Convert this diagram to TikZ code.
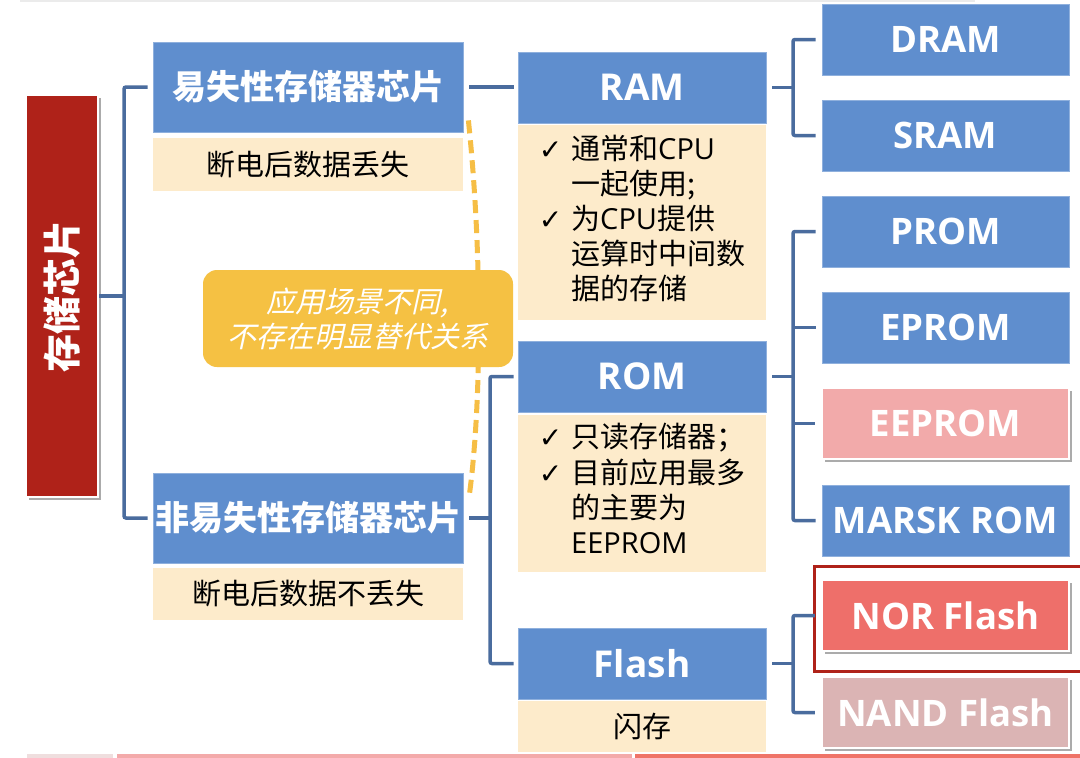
\documentclass[tikz,border=0pt]{standalone}
\usepackage{fontspec}
\setmainfont{Open Sans}
\newfontfamily\cjk{Noto Sans CJK SC}
\newfontfamily\cjkit{Noto Sans CJK SC}[FakeSlant=0.22]
\newfontfamily\lat{Open Sans}
\newfontfamily\dv{DejaVu Sans}
\usetikzlibrary{shadows}
\definecolor{boxblue}{HTML}{5F8ECE}
\definecolor{cream}{HTML}{FDEBCB}
\definecolor{linec}{HTML}{4A6C9E}
\definecolor{darkred}{HTML}{AF2219}
\definecolor{eepink}{HTML}{F2AAAA}
\definecolor{norred}{HTML}{EE6F6A}
\definecolor{nandpink}{HTML}{DBB4B4}
\definecolor{ygold}{HTML}{F5C143}
\definecolor{dashy}{HTML}{F6BE45}
\definecolor{stripa}{HTML}{EFDEDE}
\definecolor{stripb}{HTML}{F3AAAA}
\definecolor{stripc}{HTML}{EF7468}
\tikzset{
  bluebox/.style={rectangle, fill=boxblue, draw=boxblue!70!white, line width=0.8pt, text=white, inner sep=0pt},
  creambox/.style={rectangle, fill=cream, inner sep=0pt, text=black, font=\cjk\fontsize{29}{35}\selectfont},
  leafbox/.style={bluebox, minimum width=247pt, minimum height=71pt, font=\lat\bfseries\fontsize{36.5}{40}\selectfont},
  midbox/.style={bluebox, minimum width=248pt, minimum height=71pt, font=\lat\bfseries\fontsize{37}{40}\selectfont},
  titlebox/.style={bluebox, minimum width=310pt, minimum height=90pt, font=\cjk\bfseries\fontsize{34}{40}\selectfont},
  shadowed/.style={draw=white, line width=2.5pt, drop shadow={shadow xshift=3pt, shadow yshift=-3pt, fill=black, opacity=0.33}},
  conn/.style={draw=linec, line width=3.5pt, rounded corners=2pt},
}
\newcommand{\ck}{{\dv\fontsize{28}{35}\selectfont ✓}}
\begin{document}
\begin{tikzpicture}[x=1pt,y=-1pt]
\useasboundingbox (0,0) rectangle (1080,758);
\fill[white] (0,0) rectangle (1080,758);
% faint strips at the edges
\fill[black!8] (20,0) rectangle (975,2);
\fill[stripa] (27,754) rectangle (113,758);
\fill[stripb] (117,754) rectangle (632,758);
\fill[stripc] (635,754) rectangle (1080,758);

% root
\node[rectangle, fill=darkred, shadowed, rotate=90, minimum width=402pt, minimum height=72pt, inner sep=0pt,
      text=white, font=\cjk\bfseries\fontsize{38}{40}\selectfont] (root) at (62,296) {存储芯片};

% level 1
\node[titlebox] (vol) at (308,87) {易失性存储器芯片};
\node[creambox, minimum width=310pt, minimum height=53pt] (volc) at (308,164.5) {断电后数据丢失};
\node[titlebox] (nvol) at (308,518) {非易失性存储器芯片};
\node[creambox, minimum width=310pt, minimum height=52pt] (nvolc) at (308,594) {断电后数据不丢失};

% level 2
\node[midbox] (ram) at (642,87.5) {RAM};
\node[creambox, minimum width=248pt, minimum height=195pt] (ramc) at (642,222.5)
  {\begin{tabular}{@{}l@{\hspace{9pt}}l@{}}\ck&通常和{\lat CPU}\\ &一起使用;\\ \ck&为{\lat CPU}提供\\ &运算时中间数\\ &据的存储\end{tabular}};
\node[midbox] (rom) at (642,376.5) {ROM};
\node[creambox, minimum width=248pt, minimum height=157pt] (romc) at (642,493.5)
  {\begin{tabular}{@{}l@{\hspace{9pt}}l@{}}\ck&只读存储器；\\ \ck&目前应用最多\\ &的主要为\\ &{\lat EEPROM}\end{tabular}};
\node[midbox] (flash) at (642,663.5) {Flash};
\node[creambox, minimum width=248pt, minimum height=51pt] (flashc) at (642,726.5) {闪存};

% level 3
\node[leafbox] (dram) at (945.5,39.5) {DRAM};
\node[leafbox] (sram) at (945.5,135.5) {SRAM};
\node[leafbox] (prom) at (945.5,231.5) {PROM};
\node[leafbox] (eprom) at (945.5,327.5) {EPROM};
\node[leafbox, fill=eepink, shadowed] (eeprom) at (945.5,423.5) {EEPROM};
\node[leafbox] (marsk) at (945.5,520.5) {MARSK ROM};
\node[leafbox, fill=norred, shadowed] (nor) at (945.5,615.5) {NOR Flash};
\node[leafbox, fill=nandpink, shadowed] (nand) at (945.5,712.5) {NAND Flash};
\draw[darkred, line width=3pt] ([xshift=-6pt,yshift=12pt]nor.north west) rectangle ([xshift=22pt,yshift=-19pt]nor.south east);

% connectors
\coordinate (b1) at (124,296);
\draw[conn] (root.south) -- (b1);
\draw[conn] ([xshift=-5pt]vol.west) -| (b1) |- ([xshift=-5pt]nvol.west);
\draw[conn] ([xshift=6pt]vol.east) -- ([xshift=-4pt]ram.west |- vol.east);
\coordinate (b2) at (490,518);
\draw[conn] ([xshift=6pt]nvol.east) -- (b2);
\draw[conn] ([xshift=-4pt]rom.west) -| (b2) |- ([xshift=-4pt]flash.west);
\coordinate (b3) at (793,87.5);
\draw[conn] ([xshift=6pt]ram.east) -- (b3);
\draw[conn] ([xshift=-6pt]dram.west) -| (b3) |- ([xshift=-6pt]sram.west);
\coordinate (b4) at (793,376.5);
\draw[conn] ([xshift=6pt]rom.east) -- (b4);
\draw[conn] ([xshift=-6pt]prom.west) -| (b4) |- ([xshift=-6pt]marsk.west);
\draw[conn] ([xshift=-6pt]eprom.west) -- (eprom.west -| b4);
\draw[conn] ([xshift=-6pt]eeprom.west) -- (eeprom.west -| b4);
\coordinate (b5) at (793,663.5);
\draw[conn] ([xshift=6pt]flash.east) -- (b5);
\draw[conn] ([xshift=-6pt]nor.west) -| (b5) |- ([xshift=-6pt]nand.west);

% dashed relation line and note
\draw[dashy, line width=5pt, dash pattern=on 13pt off 7pt]
  ([xshift=5pt,yshift=12pt]vol.south east) .. controls (482,250) and (482,400) .. ([xshift=6pt,yshift=-22pt]nvol.north east);
\node[rectangle, fill=ygold, rounded corners=14pt, minimum width=310pt, minimum height=97pt, inner sep=0pt,
      text=white, align=center, font=\cjkit\fontsize{29}{35}\selectfont] (note) at (358,318.5)
  {应用场景不同,\\不存在明显替代关系};
\end{tikzpicture}
\end{document}
